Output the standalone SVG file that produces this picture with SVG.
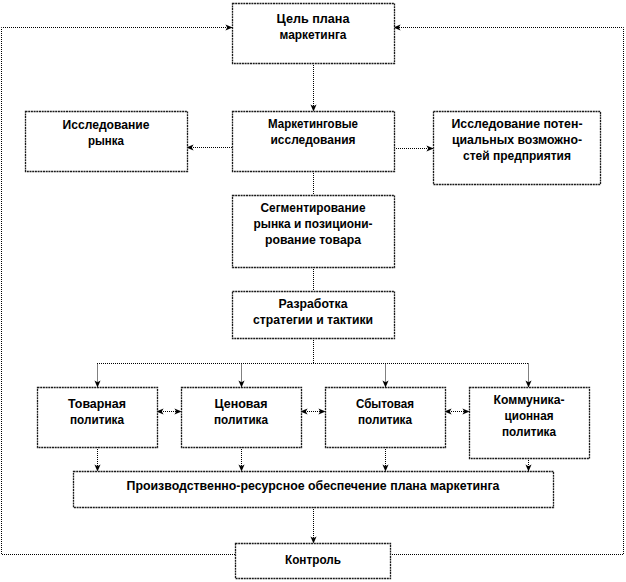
<svg xmlns="http://www.w3.org/2000/svg" width="626" height="582" viewBox="0 0 626 582">
<style>
.box{fill:#fff;stroke:#1a1a1a;stroke-width:1.3;stroke-dasharray:2 0.7}
.t{font-family:"Liberation Sans",Arial,sans-serif;font-size:13px;font-weight:bold;fill:#000;text-anchor:middle}
.c{fill:none;stroke:#000;stroke-width:1;stroke-dasharray:1 1}
</style>
<defs>
<marker id="ah" viewBox="0 0 8 8" refX="7.5" refY="4" markerWidth="7" markerHeight="7" markerUnits="userSpaceOnUse" orient="auto-start-reverse">
<path d="M0,0.5 L8,4 L0,7.5 L2,4 z" fill="#000"/>
</marker>
</defs>
<rect width="626" height="582" fill="#fff"/>
<g id="connectors">
<polyline class="c" points="235,554.5 1.5,554.5 1.5,27.5 232,27.5" marker-end="url(#ah)"/>
<polyline class="c" points="390,554.5 623.5,554.5 623.5,27.5 394,27.5" marker-end="url(#ah)"/>
<line class="c" x1="313.5" y1="63" x2="313.5" y2="111" marker-end="url(#ah)"/>
<line class="c" x1="232" y1="147.5" x2="187" y2="147.5" marker-end="url(#ah)"/>
<line class="c" x1="394" y1="148.5" x2="433" y2="148.5" marker-end="url(#ah)"/>
<line class="c" x1="313.5" y1="171" x2="313.5" y2="195"/>
<line class="c" x1="313.5" y1="267" x2="313.5" y2="291"/>
<polyline class="c" points="313.5,338 313.5,363.5"/>
<line class="c" x1="97" y1="363.5" x2="528" y2="363.5"/>
<line class="c" x1="97.5" y1="363.5" x2="97.5" y2="387" marker-end="url(#ah)"/>
<line class="c" x1="241.5" y1="363.5" x2="241.5" y2="387" marker-end="url(#ah)"/>
<line class="c" x1="385.5" y1="363.5" x2="385.5" y2="387" marker-end="url(#ah)"/>
<line class="c" x1="528.5" y1="363.5" x2="528.5" y2="387" marker-end="url(#ah)"/>
<line class="c" x1="157" y1="411.5" x2="181" y2="411.5" marker-start="url(#ah)" marker-end="url(#ah)"/>
<line class="c" x1="301" y1="411.5" x2="325" y2="411.5" marker-start="url(#ah)" marker-end="url(#ah)"/>
<line class="c" x1="445" y1="411.5" x2="469" y2="411.5" marker-start="url(#ah)" marker-end="url(#ah)"/>
<line class="c" x1="97.5" y1="447" x2="97.5" y2="471" marker-end="url(#ah)"/>
<line class="c" x1="241.5" y1="447" x2="241.5" y2="471" marker-end="url(#ah)"/>
<line class="c" x1="385.5" y1="447" x2="385.5" y2="471" marker-end="url(#ah)"/>
<line class="c" x1="528.5" y1="458" x2="528.5" y2="471" marker-end="url(#ah)"/>
<line class="c" x1="313.5" y1="507" x2="313.5" y2="543" marker-end="url(#ah)"/>
</g>
<g id="goal">
<rect class="box" x="232.5" y="3.5" width="162" height="60"/>
<text class="t" x="313" y="23" textLength="73" lengthAdjust="spacingAndGlyphs">Цель плана</text>
<text class="t" x="313" y="39" textLength="67" lengthAdjust="spacingAndGlyphs">маркетинга</text>
</g>
<g id="market-research">
<rect class="box" x="232.5" y="111.5" width="162" height="60"/>
<text class="t" x="313" y="128" textLength="90" lengthAdjust="spacingAndGlyphs">Маркетинговые</text>
<text class="t" x="313" y="144" textLength="85" lengthAdjust="spacingAndGlyphs">исследования</text>
</g>
<g id="market-study">
<rect class="box" x="25.5" y="111.5" width="162" height="60"/>
<text class="t" x="106" y="129" textLength="87" lengthAdjust="spacingAndGlyphs">Исследование</text>
<text class="t" x="106" y="145" textLength="36" lengthAdjust="spacingAndGlyphs">рынка</text>
</g>
<g id="potential-study">
<rect class="box" x="433.5" y="111.5" width="167" height="73"/>
<text class="t" x="517" y="128" textLength="131" lengthAdjust="spacingAndGlyphs">Исследование  потен-</text>
<text class="t" x="517" y="144" textLength="130" lengthAdjust="spacingAndGlyphs">циальных  возможно-</text>
<text class="t" x="517" y="160" textLength="108" lengthAdjust="spacingAndGlyphs">стей предприятия</text>
</g>
<g id="segmentation">
<rect class="box" x="232.5" y="195.5" width="162" height="72"/>
<text class="t" x="313" y="212" textLength="105" lengthAdjust="spacingAndGlyphs">Сегментирование</text>
<text class="t" x="313" y="228" textLength="119" lengthAdjust="spacingAndGlyphs">рынка и позициони-</text>
<text class="t" x="313" y="244" textLength="96" lengthAdjust="spacingAndGlyphs">рование  товара</text>
</g>
<g id="strategy">
<rect class="box" x="232.5" y="291.5" width="162" height="47"/>
<text class="t" x="313" y="308" textLength="69" lengthAdjust="spacingAndGlyphs">Разработка</text>
<text class="t" x="313" y="324" textLength="120" lengthAdjust="spacingAndGlyphs">стратегии  и тактики</text>
</g>
<g id="product-policy">
<rect class="box" x="37.5" y="387.5" width="120" height="60"/>
<text class="t" x="97" y="408" textLength="58" lengthAdjust="spacingAndGlyphs">Товарная</text>
<text class="t" x="97" y="424" textLength="54" lengthAdjust="spacingAndGlyphs">политика</text>
</g>
<g id="price-policy">
<rect class="box" x="181.5" y="387.5" width="120" height="60"/>
<text class="t" x="241" y="408" textLength="53" lengthAdjust="spacingAndGlyphs">Ценовая</text>
<text class="t" x="241" y="424" textLength="54" lengthAdjust="spacingAndGlyphs">политика</text>
</g>
<g id="sales-policy">
<rect class="box" x="325.5" y="387.5" width="120" height="60"/>
<text class="t" x="385" y="408" textLength="58" lengthAdjust="spacingAndGlyphs">Сбытовая</text>
<text class="t" x="385" y="424" textLength="54" lengthAdjust="spacingAndGlyphs">политика</text>
</g>
<g id="comm-policy">
<rect class="box" x="469.5" y="387.5" width="120" height="71"/>
<text class="t" x="529" y="404" textLength="71" lengthAdjust="spacingAndGlyphs">Коммуника-</text>
<text class="t" x="529" y="420" textLength="49" lengthAdjust="spacingAndGlyphs">ционная</text>
<text class="t" x="529" y="436" textLength="54" lengthAdjust="spacingAndGlyphs">политика</text>
</g>
<g id="resources">
<rect class="box" x="73.5" y="471.5" width="480" height="36"/>
<text class="t" x="313" y="490" textLength="373" lengthAdjust="spacingAndGlyphs">Производственно-ресурсное  обеспечение  плана  маркетинга</text>
</g>
<g id="control">
<rect class="box" x="235.5" y="543.5" width="155" height="35"/>
<text class="t" x="313" y="564" textLength="56" lengthAdjust="spacingAndGlyphs">Контроль</text>
</g>
</svg>
